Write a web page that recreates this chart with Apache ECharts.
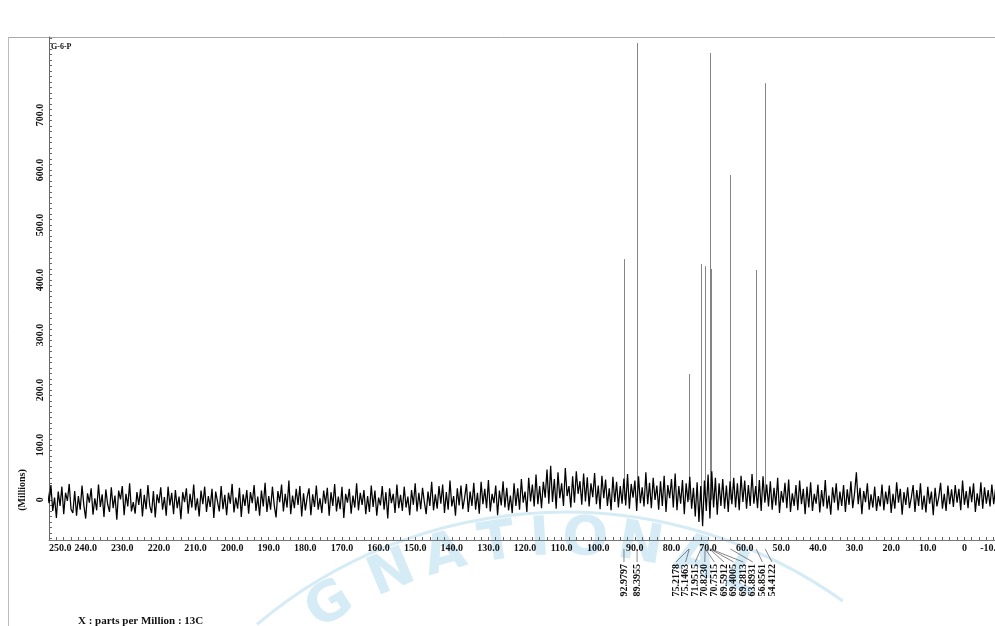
<!DOCTYPE html>
<html>
<head>
<meta charset="utf-8">
<script src="https://cdn.jsdelivr.net/npm/echarts@6/dist/echarts.min.js"></script>
<style>
  html, body { margin: 0; padding: 0; background: #fff; }
  #chart { width: 995px; height: 626px; }
</style>
</head>
<body>
<div id="chart"></div>
<script>
// peak positions (ppm) and heights (Millions)
const peakPpm = [92.9797, 89.3955, 75.2178, 75.1463, 71.9515, 70.8230, 70.7515,
  69.5912, 69.4005, 69.2813, 63.8931, 56.8561, 54.4122]
const peakHeight = [438, 831, 229, 195, 429, 425, 390, 813, 770, 420, 591, 418, 758]

// baseline noise, estimated by eye, one value every 0.5 ppm starting at 253 ppm
const noiseStartPpm = 253
const noiseStepPpm = 0.5
const baselineNoise = [
  -14, 22, -28, 9, -31, 18, -6, 27, -20, 4, -33, 15, -11, 24, -26, 13, -2, 29, -17, -24,
  16, -29, 7, -18, 26, -10, -34, 12, -5, 21, -27, 3, -19, 28, -13, 10, -31, 19, -8, -22,
  23, -15, 8, -36, 17, 1, 25, -28, 11, -12, 30, -21, -4, -25, 14, -9, 20, -30, 9, -17,
  27, -11, -24, 16, -32, 10, -6, 23, -18, 5, -29, 24, -10, 13, -26, 18, -15, 6, -35, 14,
  -4, 21, -25, 11, -14, 28, -19, 3, -30, 17, -8, 24, -22, 7, -13, 20, -33, 15, -3, -21,
  25, -17, 9, -28, 13, -7, 29, -23, 4, -16, 22, -31, 10, -11, 18, -25, 14, -6, 27, -20,
  6, -29, 17, -12, 31, -22, 7, -18, 24, -10, -32, 16, -4, 28, -21, 11, -14, 35, -26, 8,
  -15, 20, -9, 25, -30, 12, -19, 5, 21, -28, 10, -13, 26, -18, 3, -24, 17, -7, 22, -29,
  14, -11, 29, -21, 6, -17, 24, -33, 11, -5, 20, -25, 8, -14, 30, -19, 13, -9, 18, -26,
  7, -22, 26, -13, 17, -29, 4, -10, 25, -18, 14, -34, 21, -6, 11, -24, 28, -15, 9, -20,
  24, -14, 6, -28, 18, -9, 30, -21, 13, -17, 22, -4, -26, 15, -11, 33, -19, 10, -16, 25,
  -7, 28, -24, 14, -18, 35, -12, 7, -29, 21, -10, 26, -17, 4, 29, -22, 15, -11, 31, -18,
  13, -25, 33, -8, 20, -15, 36, -21, 11, -6, 26, -28, 17, -10, 34, -14, 22, -19, 8, -24,
  30, -11, 21, -18, 38, -5, 15, -22, 40, -3, 28, -12, 46, -8, 25, -15, 33, 4, 55, -7,
  62, -4, 38, -16, 50, 3, 30, -11, 58, 7, 25, -14, 43, -5, 52, 11, 34, -9, 48, -3,
  41, -12, 30, 5, 49, -8, 26, -17, 44, 3, 37, -11, 21, -19, 42, -4, 33, -14, 25, -7,
  39, -10, 47, -16, 29, 4, 35, -20, 43, -6, 23, -12, 50, -8, 31, -15, 40, 0, 26, -18,
  34, -11, 44, -22, 27, 3, 38, -14, 48, -19, 25, -7, 36, -26, 30, -4, 42, -16, 22, -30,
  32, -40, 25, -48, 35, -20, 46, -34, 52, -14, 40, -27, 30, -11, 38, -16, 26, -22, 34, -8,
  40, -14, 30, -19, 44, -4, 35, -16, 27, -11, 47, -7, 25, -15, 36, -20, 43, -5, 28, -12,
  34, -18, 22, -10, 40, -24, 16, -5, 31, -15, 37, -22, 12, -11, 27, -19, 35, -8, 20, -26,
  24, -14, 32, -20, 11, -7, 28, -23, 18, -12, 36, -16, 8, -27, 23, -5, 30, -19, 15, -11,
  27, -22, 19, -9, 34, -15, 12, 50, -8, 22, -26, 16, -4, 30, -18, 10, -14, 24, -20, 7,
  -12, 28, -19, 15, -8, 26, -24, 11, -16, 32, -5, 20, -27, 14, -9, 23, -15, 4, 27, -22,
  18, -11, 30, -18, 8, -23, 24, -7, 15, -28, 22, -12, 5, 31, -16, 11, -20, 26, -8, 19,
  -13, 27, -5, 20, -19, 35, -9, 16, -15, 24, -4, 30, -22, 12, -11, 32, -16, 23, -7, 18,
  -12, 28, -8, 20, -17, 25, -5, 15, -13, 22, -9, 27, -16, 11, -7, 19, -15
]

const xTickLabels = [250, 240, 230, 220, 210, 200, 190, 180, 170, 160, 150, 140, 130,
  120, 110, 100, 90, 80, 70, 60, 50, 40, 30, 20, 10, 0, -10]
const yTickLabels = [0, 100, 200, 300, 400, 500, 600, 700]

const X_MIN = -10, X_MAX = 250.02
const Y_MIN = -73, Y_MAX = 842
const SERIF = '"Liberation Serif", "DejaVu Serif", serif'

const xMinorTicks = []
for (let v = -10; v <= 250; v += 2) xMinorTicks.push(v)
const yMinorTicks = []
for (let v = -70; v <= 840; v += 10) yMinorTicks.push(v)

const fmt = (v) => (v === 0 ? '0' : v.toFixed(1))

// faint scanned watermark letters along an arch
function watermark() {
  const cx = 565, cy = 990, r = 450
  const letters = [['G', 330], ['N', 392], ['A', 445], ['T', 497], ['I', 540],
    ['O', 585], ['N', 640], ['A', 695], ['L', 742]]
  const items = letters.map(([ch, x]) => {
    const a = Math.asin((x - cx) / r)
    return {
      type: 'text', z: 0, silent: true,
      x: x, y: cy - r * Math.cos(a), rotation: -a,
      style: { text: ch, font: 'bold 54px "DejaVu Sans", sans-serif', fill: '#d5ebf5',
        align: 'center', verticalAlign: 'middle' }
    }
  })
  items.push({
    type: 'arc', z: 0, silent: true,
    shape: { cx: cx, cy: cy, r: 478, startAngle: -Math.PI / 2 - 0.7, endAngle: -Math.PI / 2 + 0.62 },
    style: { stroke: '#d5ebf5', lineWidth: 3, fill: 'none' }
  })
  return items
}

const chart = echarts.init(document.getElementById('chart'))
chart.setOption({
  animation: false,
  grid: { left: 49, right: -6, top: 37, bottom: 86, outerBoundsMode: 'none' },
  xAxis: {
    type: 'value', inverse: true, min: X_MIN, max: X_MAX,
    axisLine: { onZero: false, lineStyle: { color: '#777', width: 1 } },
    axisTick: { inside: true, length: 3, customValues: xMinorTicks, lineStyle: { color: '#666' } },
    axisLabel: {
      customValues: xTickLabels, formatter: fmt, margin: 3,
      alignMinLabel: 'left', alignMaxLabel: 'right',
      color: '#111', fontFamily: SERIF, fontWeight: 'bold', fontSize: 10
    },
    splitLine: { show: false }
  },
  yAxis: {
    type: 'value', min: Y_MIN, max: Y_MAX,
    axisLine: { show: true, onZero: false, lineStyle: { color: '#666', width: 1 } },
    axisTick: { inside: true, length: 3, customValues: yMinorTicks, lineStyle: { color: '#666' } },
    axisLabel: {
      customValues: yTickLabels, formatter: fmt, rotate: 90, margin: 4,
      color: '#111', fontFamily: SERIF, fontWeight: 'bold', fontSize: 10
    },
    splitLine: { show: false }
  },
  graphic: [
    { type: 'line', silent: true, shape: { x1: 8, y1: 37.5, x2: 995, y2: 37.5 }, style: { stroke: '#aaa', lineWidth: 1 } },
    { type: 'line', silent: true, shape: { x1: 8.5, y1: 37, x2: 8.5, y2: 626 }, style: { stroke: '#bbb', lineWidth: 1 } },
    ...watermark(),
    { type: 'text', x: 51, y: 47, silent: true,
      style: { text: 'G-6-P', font: 'bold 8px ' + SERIF, fill: '#111', align: 'left', verticalAlign: 'middle' } },
    { type: 'text', x: 22, y: 490, rotation: Math.PI / 2, silent: true,
      style: { text: '(Millions)', font: 'bold 10px ' + SERIF, fill: '#111', align: 'center', verticalAlign: 'middle' } },
    { type: 'text', x: 78, y: 621, silent: true,
      style: { text: 'X : parts per Million : 13C', font: 'bold 11px ' + SERIF, fill: '#111', align: 'left', verticalAlign: 'middle' } }
  ],
  series: [
    {
      type: 'custom', name: 'peaks', z: 2,
      data: peakPpm.map((p, i) => [p, peakHeight[i]]),
      renderItem(params, api) {
        const a = api.coord([api.value(0), 0])
        const b = api.coord([api.value(0), api.value(1)])
        const x = Math.round(a[0]) + 0.5
        return { type: 'line', shape: { x1: x, y1: a[1], x2: x, y2: b[1] },
          style: { stroke: '#858585', lineWidth: 1 } }
      }
    },
    {
      type: 'line', name: 'baseline', z: 3,
      data: baselineNoise.map((v, i) => [noiseStartPpm - i * noiseStepPpm, v]),
      showSymbol: false, symbol: 'none',
      lineStyle: { color: '#000', width: 1.25 }
    },
    {
      type: 'custom', name: 'peakLabels', z: 4, clip: false,
      data: peakPpm.map((p) => [p, Y_MIN]),
      renderItem(params, api) {
        const i = params.dataIndex
        const pt = api.coord([api.value(0), Y_MIN])
        const x = pt[0], yb = pt[1]
        let lx = x
        if (i >= 2) {
          const g0 = api.coord([peakPpm[2], 0])[0]
          lx = g0 - 13 + (i - 2) * 9.6
        }
        return {
          type: 'group',
          children: [
            { type: 'line', shape: { x1: x, y1: yb + 9, x2: lx, y2: yb + 22 },
              style: { stroke: '#555', lineWidth: 0.7 } },
            { type: 'text', x: lx, y: yb + 24, rotation: Math.PI / 2,
              style: { text: api.value(0).toFixed(4), font: 'bold 10px ' + SERIF, fill: '#111',
                align: 'right', verticalAlign: 'middle' } }
          ]
        }
      }
    }
  ]
})
</script>
</body>
</html>
